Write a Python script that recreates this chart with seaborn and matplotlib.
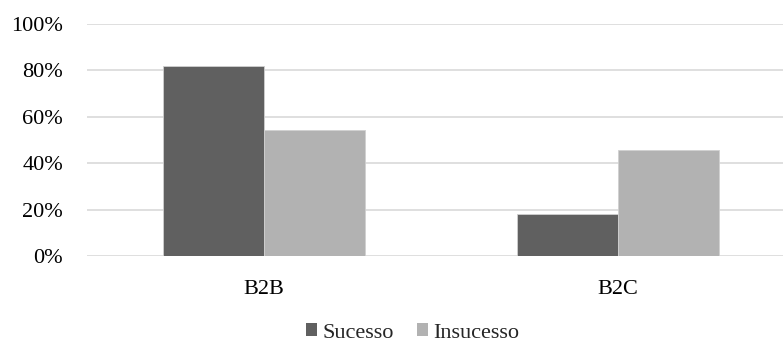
import matplotlib
matplotlib.use("Agg")
import matplotlib.pyplot as plt
import seaborn as sns
import pandas as pd
from matplotlib.ticker import PercentFormatter, MultipleLocator
from matplotlib.patches import Patch

categories = ["B2B", "B2C"]
series_names = ["Sucesso", "Insucesso"]
sucesso = [0.82, 0.18]
insucesso = [0.545, 0.455]
colors = ["#606060", "#b2b2b2"]

df = pd.DataFrame({
    "categoria": categories * 2,
    "serie": [series_names[0]] * 2 + [series_names[1]] * 2,
    "valor": sucesso + insucesso,
})

sns.set_theme(style="white")
plt.rcParams["font.family"] = ["Liberation Serif", "DejaVu Serif"]

fig = plt.figure(figsize=(7.83, 3.42), dpi=100)
ax = fig.add_axes([86.5 / 783, 1 - 256 / 342, 709 / 783, 232 / 342])

sns.barplot(data=df, x="categoria", y="valor", hue="serie",
            palette=colors, width=0.57, ax=ax, legend=False,
            edgecolor="#d0d0d0", linewidth=0.6, saturation=1)

ax.set_xlim(-0.5, 1.5)
ax.set_ylim(0, 1.0)
ax.yaxis.set_major_locator(MultipleLocator(0.2))
ax.yaxis.set_major_formatter(PercentFormatter(1.0, decimals=0))
ax.grid(axis="y", color="#d9d9d9", linewidth=1.2)
ax.set_axisbelow(True)
for s in ax.spines.values():
    s.set_visible(False)
ax.set_xlabel("")
ax.set_ylabel("")
ax.tick_params(axis="both", length=0, labelsize=16, colors="black")
ax.tick_params(axis="y", pad=17)
ax.tick_params(axis="x", pad=17)

handles = [Patch(facecolor=c, edgecolor="none") for c in colors]
fig.legend(handles, series_names, loc="center", bbox_to_anchor=(412.5 / 783, 1 - 333 / 342),
           ncol=2, frameon=False, fontsize=16, handlelength=0.5, handleheight=0.5,
           handletextpad=0.22, columnspacing=1.05, borderpad=0, borderaxespad=0)

fig.savefig("out.png", dpi=100)
